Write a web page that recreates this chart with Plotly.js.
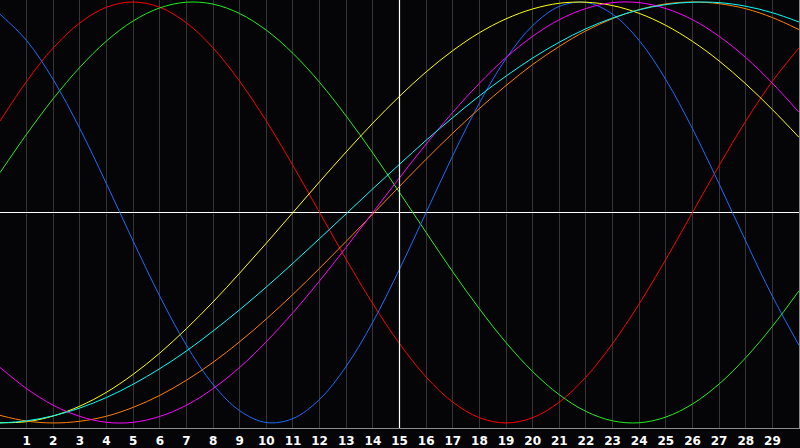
<!DOCTYPE html>
<html>
<head>
<meta charset="utf-8">
<script src="https://cdn.plot.ly/plotly-3.0.1.min.js"></script>
<style>
  html, body { margin: 0; padding: 0; background: #050507; }
  #chart { width: 800px; height: 448px; }
</style>
</head>
<body>
<div id="chart"></div>
<script>
// days shown along the bottom
var days = [0,1,2,3,4,5,6,7,8,9,10,11,12,13,14,15,16,17,18,19,20,21,22,23,24,25,26,27,28,29,30];
var tickDays = [1,2,3,4,5,6,7,8,9,10,11,12,13,14,15,16,17,18,19,20,21,22,23,24,25,26,27,28,29];
var todayDay = 15;

// cycle values, one per day
var red = [0.434,0.623,0.782,0.901,0.975,1.000,0.975,0.901,0.782,0.623,0.434,0.223,0,-0.223,-0.434,-0.623,
  -0.782,-0.901,-0.975,-1.000,-0.975,-0.901,-0.782,-0.623,-0.434,-0.223,0,0.223,0.434,0.623,0.782];
var green = [0.189,0.372,0.541,0.690,0.815,0.910,0.972,0.999,0.990,0.945,0.866,0.756,0.618,0.458,0.282,0.095,
  -0.095,-0.282,-0.458,-0.618,-0.756,-0.866,-0.945,-0.990,-0.999,-0.972,-0.910,-0.815,-0.690,-0.541,-0.372];
var blue = [0.942,0.817,0.631,0.398,0.136,-0.136,-0.398,-0.631,-0.817,-0.942,-0.998,-0.979,-0.888,-0.731,-0.520,-0.270,
  0,0.270,0.520,0.731,0.888,0.979,0.998,0.942,0.817,0.631,0.398,0.136,-0.136,-0.398,-0.631];
var yellow = [-0.999,-0.994,-0.967,-0.920,-0.854,-0.769,-0.668,-0.552,-0.425,-0.288,-0.146,0,0.146,0.288,0.425,0.552,
  0.668,0.769,0.854,0.920,0.967,0.994,0.999,0.983,0.946,0.889,0.813,0.720,0.611,0.489,0.357];
var orange = [-0.964,-0.991,-1.000,-0.992,-0.968,-0.926,-0.869,-0.797,-0.712,-0.614,-0.506,-0.389,-0.265,-0.137,-0.007,0.124,
  0.253,0.377,0.494,0.603,0.703,0.789,0.863,0.921,0.964,0.991,1.000,0.992,0.968,0.926,0.869];
var magenta = [-0.736,-0.837,-0.916,-0.969,-0.997,-0.997,-0.969,-0.916,-0.837,-0.736,-0.614,-0.476,-0.325,-0.165,0,0.165,
  0.325,0.476,0.614,0.736,0.837,0.916,0.969,0.997,0.997,0.969,0.916,0.837,0.736,0.614,0.476];
var cyan = [-1.000,-0.990,-0.966,-0.929,-0.879,-0.816,-0.742,-0.658,-0.563,-0.462,-0.354,-0.241,-0.124,-0.006,0.113,0.229,
  0.343,0.451,0.554,0.648,0.734,0.809,0.873,0.924,0.963,0.988,0.999,0.997,0.980,0.949,0.905];

function cycle(values, color) {
  return {
    x: days,
    y: values,
    type: "scatter",
    mode: "lines",
    line: { color: color, width: 1, shape: "spline", smoothing: 1 },
    hoverinfo: "skip"
  };
}

var data = [
  cycle(red, "#ff0000"),
  cycle(green, "#22ee22"),
  cycle(blue, "#1a6cff"),
  cycle(yellow, "#ffff00"),
  cycle(orange, "#ff7f00"),
  cycle(magenta, "#ff00ff"),
  cycle(cyan, "#00ffff")
];

var layout = {
  width: 800, height: 448,
  margin: { l: 0, r: 1, t: 0, b: 20 },
  paper_bgcolor: "#050507",
  plot_bgcolor: "#050507",
  showlegend: false,
  xaxis: {
    range: [0, 30],
    tickvals: tickDays,
    ticktext: tickDays.map(String),
    showgrid: true, gridcolor: "#353535", gridwidth: 1,
    zeroline: false,
    showline: true, linecolor: "#8c8c8c", linewidth: 1, mirror: true,
    ticks: "", ticklabelstandoff: 2,
    tickfont: { family: "DejaVu Sans", size: 12, color: "#ffffff", weight: "bold" },
    fixedrange: true
  },
  yaxis: {
    range: [-1.024, 1.0095],
    showticklabels: false,
    showgrid: false,
    zeroline: true, zerolinecolor: "#ffffff", zerolinewidth: 1,
    showline: true, linecolor: "#8c8c8c", linewidth: 1, mirror: true,
    ticks: "",
    fixedrange: true
  },
  shapes: [{
    type: "line", xref: "x", yref: "paper",
    x0: todayDay, x1: todayDay, y0: 0, y1: 1,
    line: { color: "#ffffff", width: 1.2 },
    layer: "above"
  }]
};

Plotly.newPlot("chart", data, layout, { displayModeBar: false, staticPlot: true });
</script>
</body>
</html>
